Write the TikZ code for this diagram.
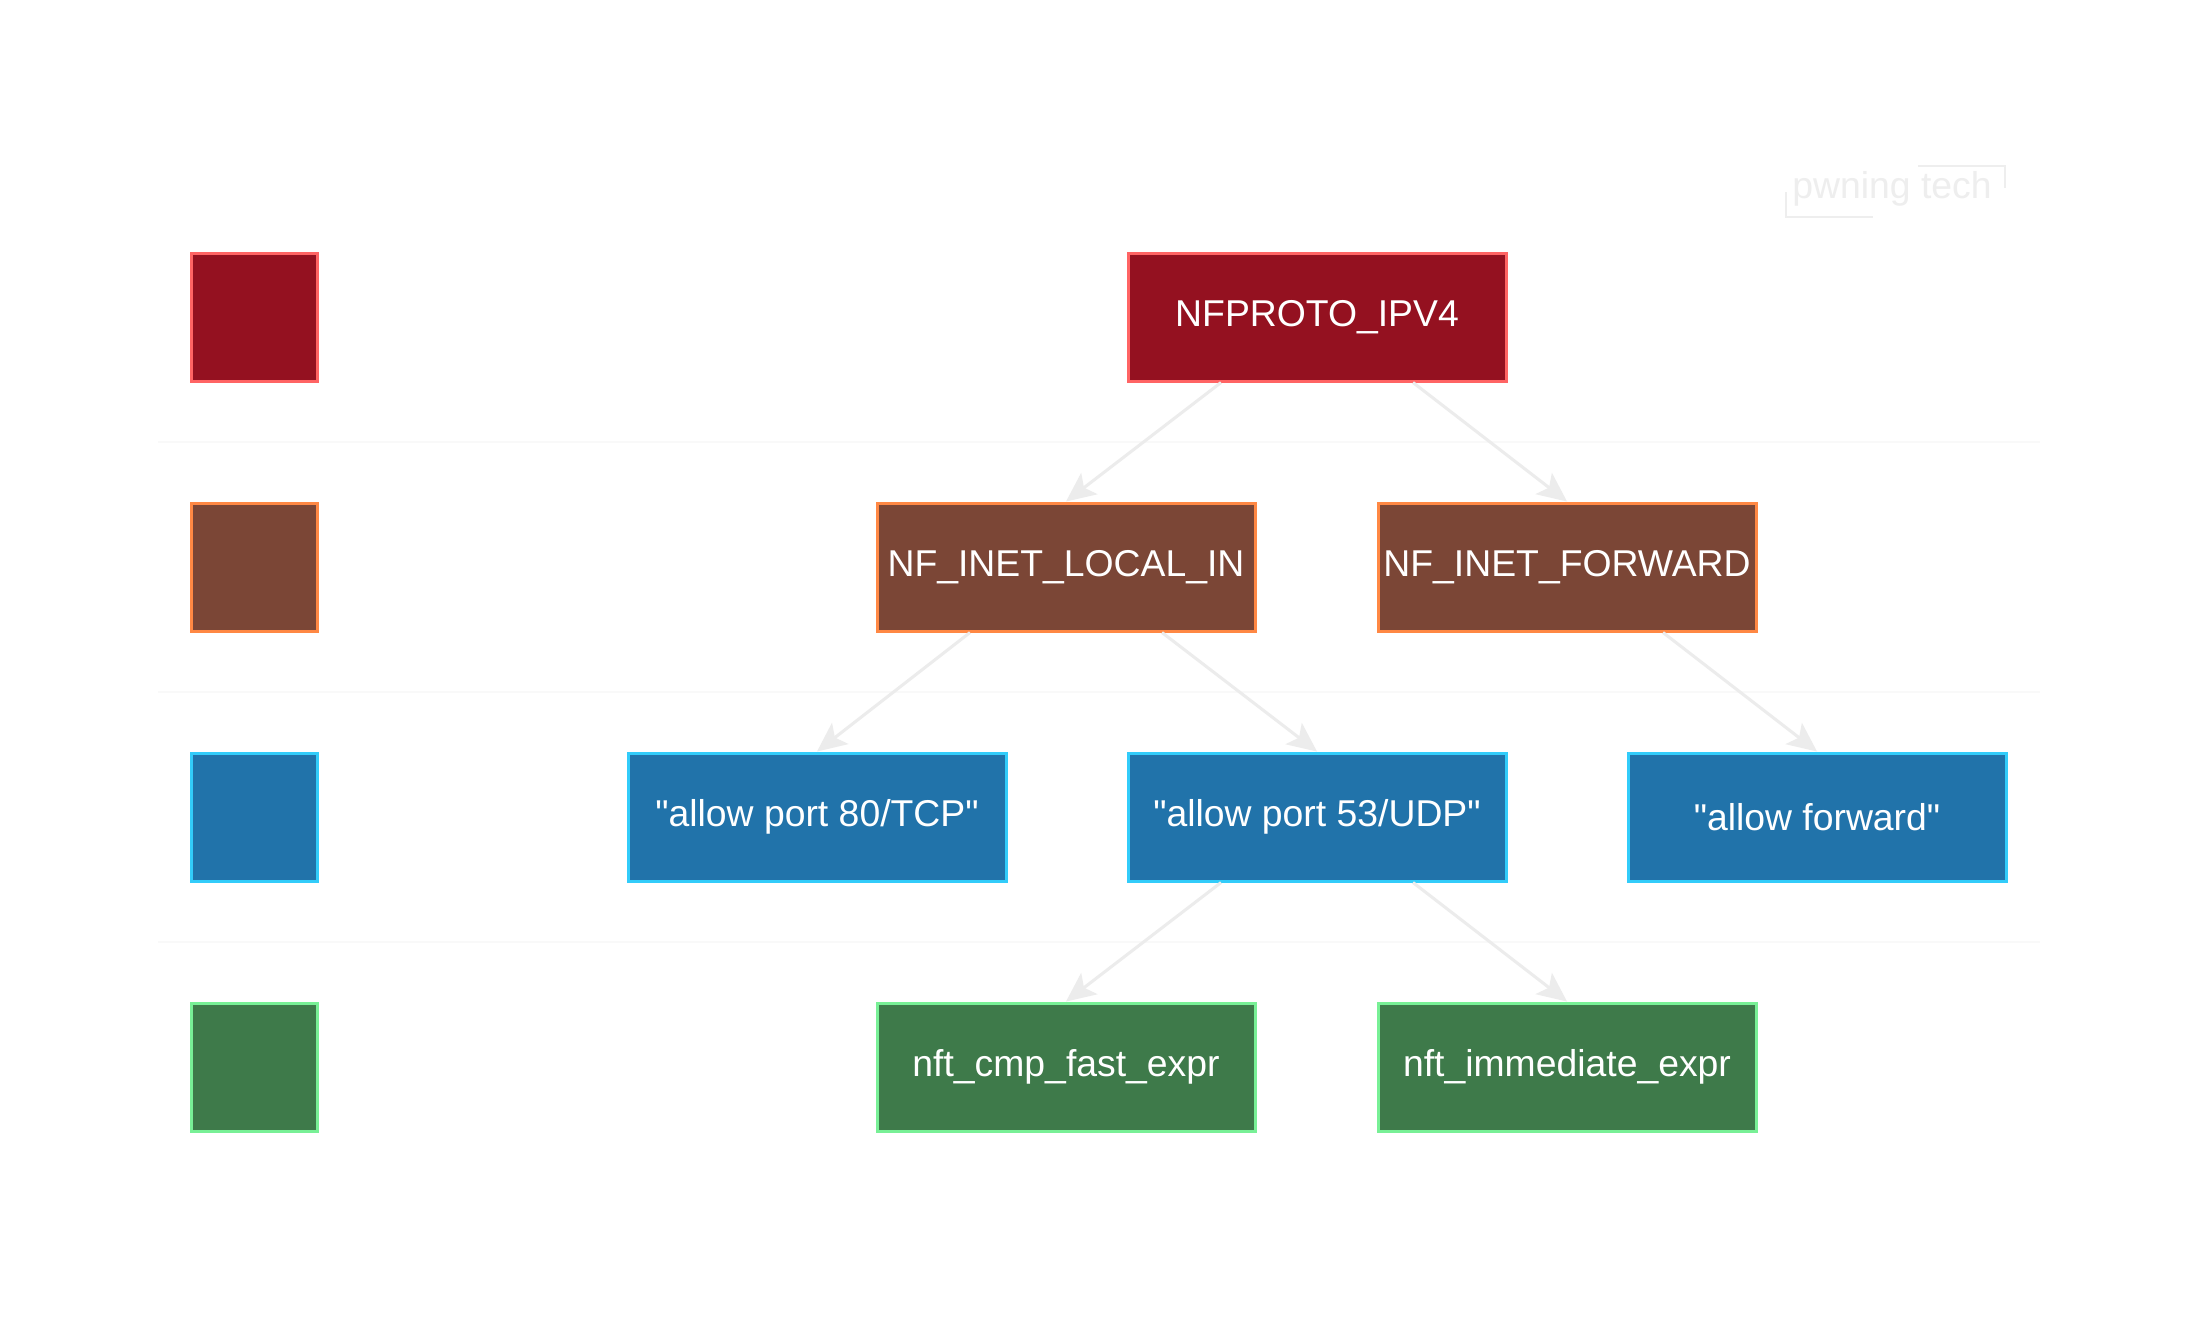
\documentclass[tikz,border=0pt]{standalone}
\usepackage{fontspec}
\setmainfont{Liberation Sans}
\newfontfamily\lsans{Liberation Sans}
\usetikzlibrary{arrows.meta,calc}
\definecolor{redfill}{RGB}{148,17,32}
\definecolor{redline}{RGB}{255,100,100}
\definecolor{brownfill}{RGB}{123,70,54}
\definecolor{brownline}{RGB}{255,136,68}
\definecolor{bluefill}{RGB}{33,115,170}
\definecolor{blueline}{RGB}{50,204,250}
\definecolor{greenfill}{RGB}{62,122,74}
\definecolor{greenline}{RGB}{120,240,150}
\definecolor{edgegray}{RGB}{236,236,236}
\definecolor{sepgray}{RGB}{249,249,249}
\definecolor{wmgray}{RGB}{238,238,238}
\tikzset{
  box/.style={draw, line width=2.25pt, minimum width=283.5pt, minimum height=96pt,
    inner sep=0pt, text=white, font=\lsans\fontsize{28}{33}\selectfont},
  legendbox/.style={draw, line width=2.25pt, minimum width=95pt, minimum height=96pt, inner sep=0pt},
  lred/.style={fill=redfill, draw=redline},
  lbrown/.style={fill=brownfill, draw=brownline},
  lblue/.style={fill=bluefill, draw=blueline},
  lgreen/.style={fill=greenfill, draw=greenline},
  edge/.style={draw=edgegray, line width=2.25pt, -{Stealth[length=22pt,width=20pt,inset=5pt]}},
  sep/.style={draw=sepgray, line width=1.2pt},
  wm/.style={draw=wmgray, line width=1.6pt}
}
\begin{document}
\begin{tikzpicture}[x=0.75pt,y=-0.75pt]
\path[use as bounding box, fill=white] (0,0) rectangle (2197,1322);
% separators
\draw[sep] (158,442) -- (2040,442);
\draw[sep] (158,692) -- (2040,692);
\draw[sep] (158,942) -- (2040,942);
% watermark
\node[anchor=base, text=wmgray, font=\fontsize{28}{33}\selectfont, inner sep=0pt] (wmtext) at (1892,198) {pwning tech};
\coordinate (wa) at (1918,166);
\coordinate (wb) at (2005,166);
\coordinate (wc) at (2005,188);
\coordinate (wd) at (1786,192);
\coordinate (we) at (1786,217);
\coordinate (wf) at (1873,217);
\draw[wm] (wa) -- (wb) -- (wc);
\draw[wm] (wd) -- (we) -- (wf);
% legend
\node[legendbox, lred] (leg1) at (254.5,317) {};
\node[legendbox, lbrown] (leg2) at (254.5,567) {};
\node[legendbox, lblue] (leg3) at (254.5,817) {};
\node[legendbox, lgreen] (leg4) at (254.5,1067) {};
% nodes
\node[box, lred] (ipv4) at (1317,317) {NFPROTO\_IPV4};
\node[box, lbrown] (localin) at (1066,567) {NF\_INET\_LOCAL\_IN};
\node[box, lbrown] (forward) at (1567,567) {NF\_INET\_FORWARD};
\node[box, lblue] (tcp) at (817,817) {"allow port 80/TCP"};
\node[box, lblue] (udp) at (1317,817) {"allow port 53/UDP"};
\node[box, lblue] (allowfwd) at (1817,817) {"allow forward"};
\node[box, lgreen] (cmp) at (1066,1067) {nft\_cmp\_fast\_expr};
\node[box, lgreen] (imm) at (1567,1067) {nft\_immediate\_expr};
% edges
\draw[edge] ($(ipv4.south)+(-96,0)$) -- (localin.north);
\draw[edge] ($(ipv4.south)+(96,0)$) -- (forward.north);
\draw[edge] ($(localin.south)+(-96,0)$) -- (tcp.north);
\draw[edge] ($(localin.south)+(96,0)$) -- (udp.north);
\draw[edge] ($(forward.south)+(96,0)$) -- (allowfwd.north);
\draw[edge] ($(udp.south)+(-96,0)$) -- (cmp.north);
\draw[edge] ($(udp.south)+(96,0)$) -- (imm.north);
\end{tikzpicture}
\end{document}
